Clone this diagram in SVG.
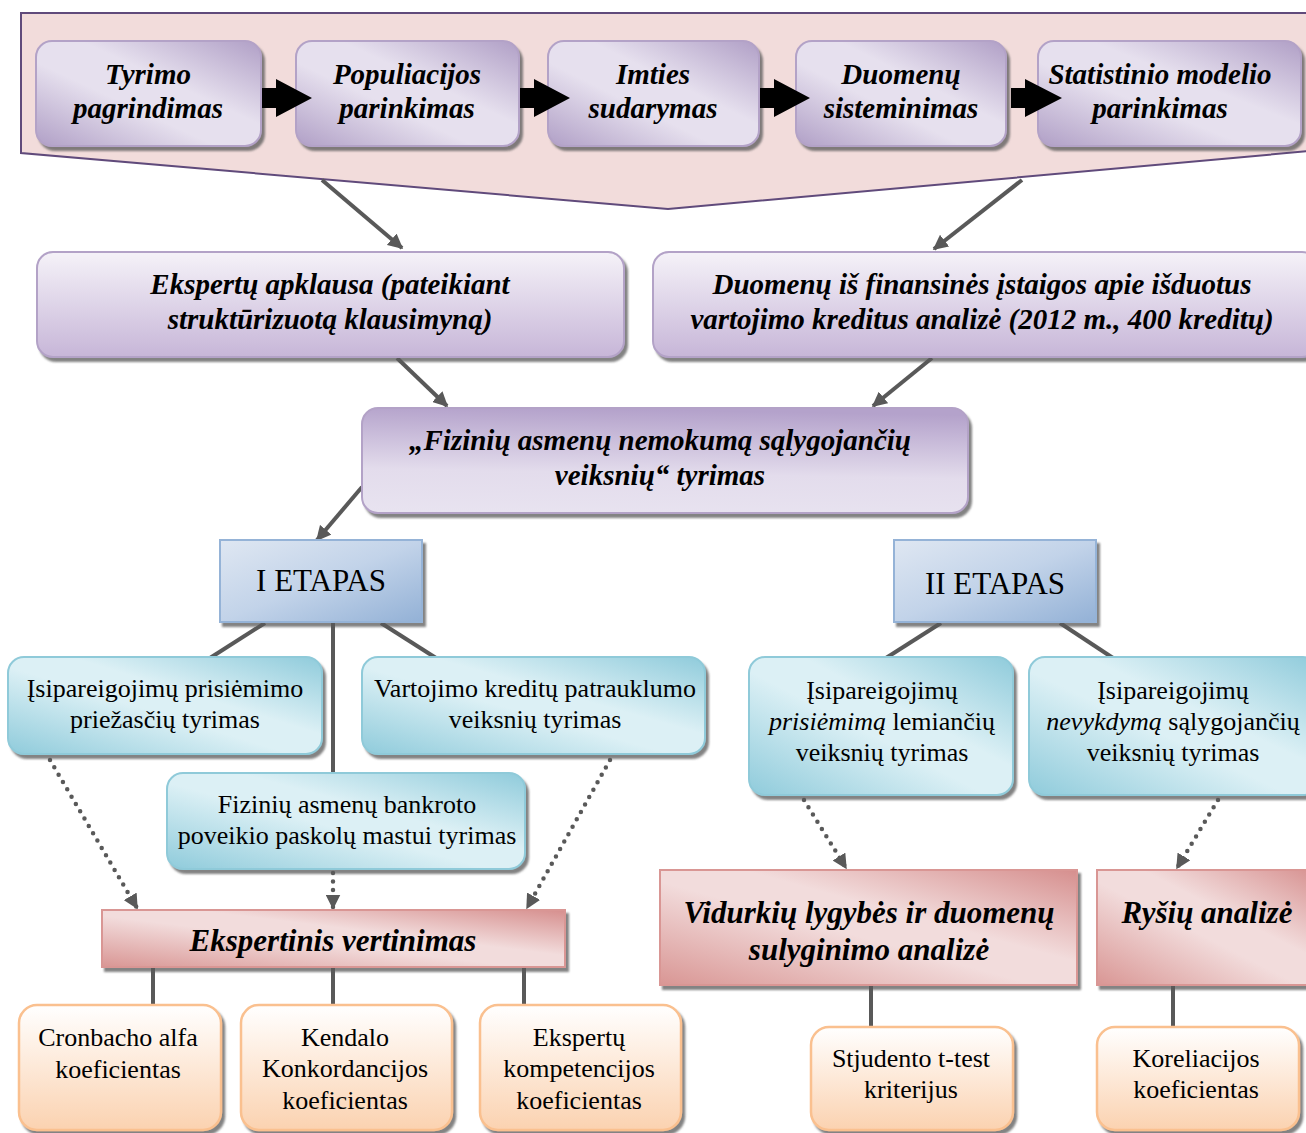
<svg xmlns="http://www.w3.org/2000/svg" width="1306" height="1133" viewBox="0 0 1306 1133">
<defs>
<style>
.bi{font-family:"Liberation Serif","Times New Roman",serif;font-weight:bold;font-style:italic;fill:#000;text-anchor:middle}
.rg{font-family:"Liberation Serif","Times New Roman",serif;fill:#000;text-anchor:middle}
.pd{fill:url(#gPurpleDiag);stroke:#b3a2c7;stroke-width:2;filter:url(#sh)}
.pv{fill:url(#gPurpleV);stroke:#b3a2c7;stroke-width:2;filter:url(#sh)}
.pc{fill:url(#gPurpleC);stroke:#b3a2c7;stroke-width:2;filter:url(#sh)}
.bl{fill:url(#gBlue);stroke:#95b3d7;stroke-width:2;filter:url(#sh)}
.cy{fill:url(#gCyan);stroke:#8fcad9;stroke-width:2;filter:url(#sh)}
.pk{fill:url(#gPink);stroke:#d99694;stroke-width:2;filter:url(#sh)}
.or{fill:url(#gOrange);stroke:#fac08f;stroke-width:2.5;filter:url(#sh)}
.ln{stroke:#595959;stroke-width:4;fill:none}
.ar{stroke:#595959;stroke-width:4;fill:none;marker-end:url(#ah)}
.dt{stroke:#595959;stroke-width:4.5;fill:none;stroke-dasharray:0 8.5;stroke-linecap:round;marker-end:url(#ah)}
.blk{fill:#000}
</style>
<filter id="sh" x="-5%" y="-5%" width="115%" height="125%">
<feDropShadow dx="3" dy="4" stdDeviation="0.8" flood-color="#5a5a5a" flood-opacity="0.75"/>
</filter>
<linearGradient id="gPurpleDiag" x1="0" y1="1" x2="1" y2="0">
<stop offset="0" stop-color="#b09fc6"/><stop offset="0.4" stop-color="#e6e0ee"/><stop offset="0.6" stop-color="#e6e0ee"/><stop offset="1" stop-color="#b09fc6"/>
</linearGradient>
<linearGradient id="gPurpleV" x1="0" y1="0" x2="0" y2="1">
<stop offset="0" stop-color="#f5f2f8"/><stop offset="1" stop-color="#c7b6d8"/>
</linearGradient>
<linearGradient id="gPurpleC" x1="0.3" y1="0" x2="0.2" y2="1">
<stop offset="0" stop-color="#b4a2cb"/><stop offset="0.6" stop-color="#e3dcec"/><stop offset="1" stop-color="#e8e3f0"/>
</linearGradient>
<linearGradient id="gBlue" x1="0" y1="0" x2="1" y2="1">
<stop offset="0" stop-color="#dfe7f2"/><stop offset="0.5" stop-color="#c2d3e9"/><stop offset="1" stop-color="#93b1d6"/>
</linearGradient>
<linearGradient id="gCyan" x1="0" y1="1" x2="1" y2="0">
<stop offset="0" stop-color="#8fcbdb"/><stop offset="0.45" stop-color="#dcf0f5"/><stop offset="0.6" stop-color="#dcf0f5"/><stop offset="1" stop-color="#8fcbdb"/>
</linearGradient>
<linearGradient id="gPink" x1="0" y1="1" x2="1" y2="0">
<stop offset="0" stop-color="#d99694"/><stop offset="0.45" stop-color="#f2dcdc"/><stop offset="0.6" stop-color="#f2dcdc"/><stop offset="1" stop-color="#d68f8e"/>
</linearGradient>
<linearGradient id="gOrange" x1="0" y1="0" x2="0" y2="1">
<stop offset="0" stop-color="#ffffff"/><stop offset="1" stop-color="#fbd2b0"/>
</linearGradient>
<marker id="ah" viewBox="0 0 10 10" refX="9" refY="5" markerWidth="15" markerHeight="15" markerUnits="userSpaceOnUse" orient="auto">
<path d="M0,0 L10,5 L0,10 Z" fill="#595959"/>
</marker>
</defs>

<g id="banner">
<polygon points="21,13 1310,13 1310,151 668,209 21,153" fill="#f2dcdb" stroke="#604a7b" stroke-width="2"/>
</g>

<g id="connectors">
<line class="ar" x1="322" y1="180" x2="402" y2="248"/>
<line class="ar" x1="1022" y1="180" x2="934" y2="249"/>
<line class="ar" x1="397" y1="358" x2="447" y2="406"/>
<line class="ar" x1="932" y1="358" x2="873" y2="406"/>
<line class="ar" x1="362" y1="487" x2="317" y2="540"/>
<line class="ln" x1="265" y1="623" x2="210" y2="658"/>
<line class="ln" x1="333" y1="623" x2="333" y2="774"/>
<line class="ln" x1="381" y1="623" x2="436" y2="658"/>
<line class="ln" x1="941" y1="623" x2="886" y2="658"/>
<line class="ln" x1="1060" y1="623" x2="1113" y2="658"/>
<line class="dt" x1="50" y1="760" x2="137" y2="908"/>
<line class="dt" x1="333" y1="873" x2="333" y2="908"/>
<line class="dt" x1="610" y1="760" x2="527" y2="908"/>
<line class="dt" x1="804" y1="800" x2="846" y2="868"/>
<line class="dt" x1="1218" y1="800" x2="1177" y2="868"/>
<line class="ln" x1="153" y1="967" x2="153" y2="1006"/>
<line class="ln" x1="333" y1="967" x2="333" y2="1006"/>
<line class="ln" x1="524" y1="967" x2="524" y2="1006"/>
<line class="ln" x1="871" y1="985" x2="871" y2="1028"/>
<line class="ln" x1="1173" y1="985" x2="1173" y2="1028"/>
</g>

<g id="n-tyrimo">
<rect class="pd" x="36" y="41" width="225" height="105" rx="16"/>
<text class="bi" font-size="29" x="148" y="84">Tyrimo</text>
<text class="bi" font-size="29" x="148" y="118">pagrindimas</text>
</g>
<g id="n-populiacijos">
<rect class="pd" x="296" y="41" width="223" height="105" rx="16"/>
<text class="bi" font-size="29" x="407" y="84">Populiacijos</text>
<text class="bi" font-size="29" x="407" y="118">parinkimas</text>
</g>
<g id="n-imties">
<rect class="pd" x="548" y="41" width="211" height="105" rx="16"/>
<text class="bi" font-size="29" x="653" y="84">Imties</text>
<text class="bi" font-size="29" x="653" y="118">sudarymas</text>
</g>
<g id="n-duomenu">
<rect class="pd" x="796" y="41" width="210" height="105" rx="16"/>
<text class="bi" font-size="29" x="901" y="84">Duomenų</text>
<text class="bi" font-size="29" x="901" y="118">sisteminimas</text>
</g>
<g id="n-statistinio">
<rect class="pd" x="1038" y="41" width="263" height="105" rx="16"/>
<text class="bi" font-size="29" x="1160" y="84">Statistinio modelio</text>
<text class="bi" font-size="29" x="1160" y="118">parinkimas</text>
</g>

<g id="block-arrows">
<polygon class="blk" points="262,88 276,88 276,79 312,98 276,117 276,108 262,108"/>
<polygon class="blk" points="520,88 534,88 534,79 570,98 534,117 534,108 520,108"/>
<polygon class="blk" points="760,88 774,88 774,79 810,98 774,117 774,108 760,108"/>
<polygon class="blk" points="1011,88 1025,88 1025,79 1062,98 1025,117 1025,108 1011,108"/>
</g>

<g id="n-ekspertu-apklausa">
<rect class="pv" x="37" y="252" width="587" height="105" rx="16"/>
<text class="bi" font-size="29" x="330" y="294">Ekspertų apklausa (pateikiant</text>
<text class="bi" font-size="29" x="330" y="329">struktūrizuotą klausimyną)</text>
</g>
<g id="n-duomenu-finansines">
<rect class="pv" x="653" y="252" width="665" height="105" rx="16"/>
<text class="bi" font-size="29" x="982" y="294">Duomenų iš finansinės įstaigos apie išduotus</text>
<text class="bi" font-size="29" x="982" y="329">vartojimo kreditus analizė (2012 m., 400 kreditų)</text>
</g>

<g id="n-tyrimas">
<rect class="pc" x="362" y="408" width="606" height="105" rx="16"/>
<text class="bi" font-size="29" x="660" y="450">„Fizinių asmenų nemokumą sąlygojančių</text>
<text class="bi" font-size="29" x="660" y="485">veiksnių“ tyrimas</text>
</g>

<g id="n-etapas1">
<rect class="bl" x="220" y="540" width="202" height="82"/>
<text class="rg" font-size="31" x="321" y="591">I ETAPAS</text>
</g>
<g id="n-etapas2">
<rect class="bl" x="894" y="540" width="202" height="82"/>
<text class="rg" font-size="31" x="995" y="594">II ETAPAS</text>
</g>

<g id="n-prisiemimo-priezasciu">
<rect class="cy" x="8" y="657" width="314" height="97" rx="16"/>
<text class="rg" font-size="26" x="165" y="697">Įsipareigojimų prisiėmimo</text>
<text class="rg" font-size="26" x="165" y="728">priežasčių tyrimas</text>
</g>
<g id="n-vartojimo">
<rect class="cy" x="362" y="657" width="343" height="97" rx="16"/>
<text class="rg" font-size="26" x="535" y="697">Vartojimo kreditų patrauklumo</text>
<text class="rg" font-size="26" x="535" y="728">veiksnių tyrimas</text>
</g>
<g id="n-bankroto">
<rect class="cy" x="167" y="773" width="358" height="96" rx="16"/>
<text class="rg" font-size="26" x="347" y="813">Fizinių asmenų bankroto</text>
<text class="rg" font-size="26" x="347" y="844">poveikio paskolų mastui tyrimas</text>
</g>
<g id="n-prisiemima-lemianciu">
<rect class="cy" x="749" y="657" width="264" height="138" rx="16"/>
<text class="rg" font-size="26" x="882" y="699">Įsipareigojimų</text>
<text class="rg" font-size="26" x="882" y="730"><tspan font-style="italic">prisiėmimą</tspan> lemiančių</text>
<text class="rg" font-size="26" x="882" y="761">veiksnių tyrimas</text>
</g>
<g id="n-nevykdyma">
<rect class="cy" x="1029" y="657" width="290" height="138" rx="16"/>
<text class="rg" font-size="26" x="1173" y="699">Įsipareigojimų</text>
<text class="rg" font-size="26" x="1173" y="730"><tspan font-style="italic">nevykdymą</tspan> sąlygojančių</text>
<text class="rg" font-size="26" x="1173" y="761">veiksnių tyrimas</text>
</g>

<g id="n-ekspertinis">
<rect class="pk" x="102" y="910" width="463" height="57"/>
<text class="bi" font-size="31" x="333" y="951">Ekspertinis vertinimas</text>
</g>
<g id="n-vidurkiu">
<rect class="pk" x="660" y="870" width="417" height="115"/>
<text class="bi" font-size="31" x="869" y="923">Vidurkių lygybės ir duomenų</text>
<text class="bi" font-size="31" x="869" y="960">sulyginimo analizė</text>
</g>
<g id="n-rysiu">
<rect class="pk" x="1097" y="870" width="225" height="115"/>
<text class="bi" font-size="31" x="1207" y="923">Ryšių analizė</text>
</g>

<g id="n-cronbacho">
<rect class="or" x="19" y="1005" width="202" height="125" rx="18"/>
<text class="rg" font-size="26" x="118" y="1046">Cronbacho alfa</text>
<text class="rg" font-size="26" x="118" y="1078">koeficientas</text>
</g>
<g id="n-kendalo">
<rect class="or" x="241" y="1005" width="211" height="125" rx="18"/>
<text class="rg" font-size="26" x="345" y="1046">Kendalo</text>
<text class="rg" font-size="26" x="345" y="1077">Konkordancijos</text>
<text class="rg" font-size="26" x="345" y="1109">koeficientas</text>
</g>
<g id="n-ekspertu-kompetencijos">
<rect class="or" x="480" y="1005" width="201" height="125" rx="18"/>
<text class="rg" font-size="26" x="579" y="1046">Ekspertų</text>
<text class="rg" font-size="26" x="579" y="1077">kompetencijos</text>
<text class="rg" font-size="26" x="579" y="1109">koeficientas</text>
</g>
<g id="n-stjudento">
<rect class="or" x="811" y="1027" width="202" height="103" rx="18"/>
<text class="rg" font-size="26" x="911" y="1067">Stjudento t-test</text>
<text class="rg" font-size="26" x="911" y="1098">kriterijus</text>
</g>
<g id="n-koreliacijos">
<rect class="or" x="1097" y="1027" width="202" height="103" rx="18"/>
<text class="rg" font-size="26" x="1196" y="1067">Koreliacijos</text>
<text class="rg" font-size="26" x="1196" y="1098">koeficientas</text>
</g>
</svg>
